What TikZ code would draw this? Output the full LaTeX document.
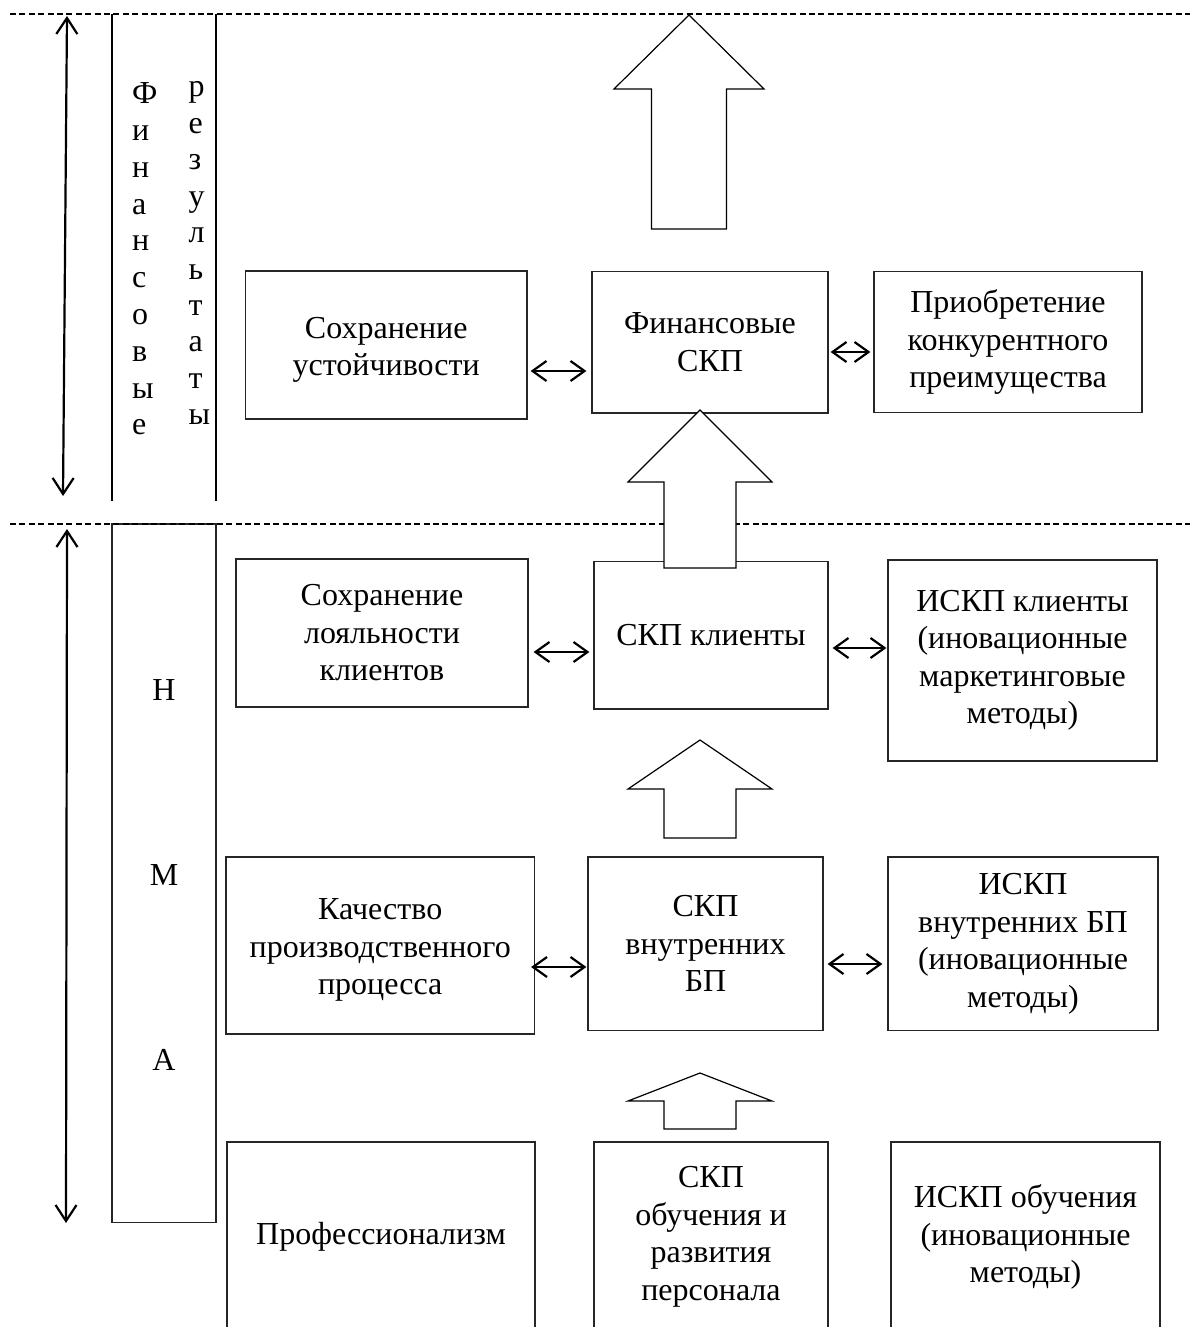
\documentclass[tikz,border=0pt]{standalone}
\usepackage{fontspec}
\setmainfont{Liberation Serif}
\usetikzlibrary{arrows.meta,calc}
\newcommand\blockarr[6]{%
  \draw[bigarr] (#1,#2) -- (#1+#5,#3) -- (#1+#6,#3) -- (#1+#6,#4)
    -- (#1-#6,#4) -- (#1-#6,#3) -- (#1-#5,#3) -- cycle;}
\begin{document}
\begin{tikzpicture}[x=1pt,y=-1pt,
  txt/.style={font=\fontsize{32}{37.5}\selectfont},
  box/.style={txt,draw=black!85,line width=1.2pt,inner sep=0pt,align=center},
  btxt/.style={txt,inner sep=0pt,align=center},
  vlet/.style={txt,inner sep=0pt},
  dbl/.style={line width=2.2pt,{Straight Barb[length=14pt,width=20pt]}-{Straight Barb[length=14pt,width=20pt]}},
  side/.style={line width=2.2pt,{Straight Barb[length=16pt,width=21pt]}-{Straight Barb[length=16pt,width=21pt]}},
  vline/.style={line width=2pt},
  sepline/.style={line width=2pt,dash pattern=on 6pt off 3.4pt},
  bigarr/.style={draw=black,line width=1.2pt,fill=white,line join=miter}]
\clip (0,0) rectangle (1190,1327);

% boxes
\node[box,minimum width=281.5pt,minimum height=148pt] (sust) at (386.25,345) {};
\node[btxt] (sustt) at (386.25,350) {Сохранение\\устойчивости};
\node[box,minimum width=236pt,minimum height=141.3pt] (fin) at (710,342.3) {Финансовые\\СКП};
\node[box,minimum width=268pt,minimum height=140.3pt] (comp) at (1008,342) {Приобретение\\конкурентного\\преимущества};

\node[box,minimum width=292pt,minimum height=148pt] (loyal) at (382,633) {Сохранение\\лояльности\\клиентов};
\node[box,minimum width=234pt,minimum height=147.3pt] (cli) at (711,635.3) {СКП клиенты};
\node[box,minimum width=269pt,minimum height=201pt] (icli) at (1022.5,660.5) {ИСКП клиенты\\(иновационные\\маркетинговые\\методы)};

\node[box,minimum width=308.5pt,minimum height=177pt] (qual) at (380.25,945.5) {};
\node[btxt] (qualt) at (380.25,950) {Качество\\производственного\\процесса};
\node[box,minimum width=235pt,minimum height=173.5pt] (bp) at (705.5,943.75) {СКП\\внутренних\\БП};
\node[box,minimum width=270pt,minimum height=173.7pt] (ibp) at (1023,943.8) {ИСКП\\внутренних БП\\(иновационные\\методы)};

\node[box,minimum width=308pt,minimum height=190pt] (prof) at (381,1237) {Профессионализм};
\node[box,minimum width=234pt,minimum height=190pt] (edu) at (711,1237) {СКП\\обучения и\\развития\\персонала};
\node[box,minimum width=269pt,minimum height=190pt] (iedu) at (1025.5,1237) {ИСКП обучения\\(иновационные\\методы)};

% NMA box
\node[draw=black!85,line width=1.2pt,inner sep=0pt,minimum width=104pt,minimum height=698.7pt] (nma) at (164,873.35) {};
\node[vlet] (n1) at (164,690) {Н};
\node[vlet] (n2) at (164,875) {М};
\node[vlet] (n3) at (164,1060) {А};

% vertical text
\foreach \c [count=\i from 0] in {Ф,и,н,а,н,с,о,в,ы,е}
  \node[vlet,anchor=base west] (fv\i) at (132,103.6+36.8*\i) {\c};
\foreach \c [count=\i from 0] in {р,е,з,у,л,ь,т,а,т,ы}
  \node[vlet,anchor=base west] (rv\i) at (188.5,97+36.4*\i) {\c};

% column lines
\coordinate (l1t) at (112.3,14.3); \coordinate (l1b) at (112.3,500.7);
\coordinate (l2t) at (216,14.3);   \coordinate (l2b) at (216,500.7);
\draw[vline] (l1t) -- (l1b);
\draw[vline] (l2t) -- (l2b);

% side arrows
\coordinate (s1t) at (67,16); \coordinate (s1b) at (63,496);
\coordinate (s2t) at (67,529); \coordinate (s2b) at (66,1223);
\draw[side] (s1t) -- (s1b);
\draw[side] (s2t) -- (s2b);

% dashed separators
\coordinate (d1a) at (10,14.3); \coordinate (d1b) at (1190,14.3);
\coordinate (d2a) at (10,524);  \coordinate (d2b) at (1190,524);
\draw[sepline] (d1a) -- (d1b);
\draw[sepline] (d2a) -- (d2b);

% double arrows
\draw[dbl] ($(sust.east|-0,371)+(3,0)$) -- ($(fin.west|-0,371)+(-5,0)$);
\draw[dbl] ($(fin.east|-0,352)+(2,0)$) -- ($(comp.west|-0,352)+(-3,0)$);
\draw[dbl] ($(loyal.east|-0,652)+(5,0)$) -- ($(cli.west|-0,652)+(-4,0)$);
\draw[dbl] ($(cli.east|-0,648)+(4,0)$) -- ($(icli.west|-0,648)+(-1,0)$);
\draw[dbl] ($(qual.east|-0,967)+(-4,0)$) -- ($(bp.west|-0,967)+(-1,0)$);
\draw[dbl] ($(bp.east|-0,964)+(4,0)$) -- ($(ibp.west|-0,964)+(-5,0)$);

% block arrows
\blockarr{689}{15}{89}{229}{75}{37.5}
\blockarr{700}{410}{482}{568}{72}{36}
\blockarr{700}{740}{789}{838}{72}{36}
\blockarr{700}{1073}{1101}{1129}{72}{36}
\end{tikzpicture}
\end{document}
